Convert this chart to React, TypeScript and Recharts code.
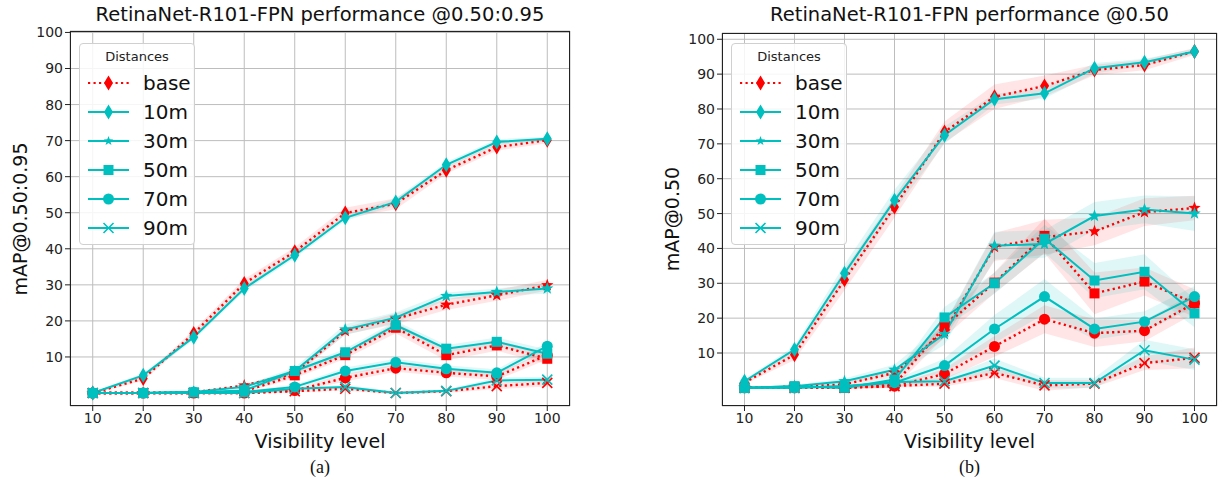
import React from "react";
import { ComposedChart, Line, Area, XAxis, YAxis, CartesianGrid } from "recharts";

const visibility = [10, 20, 30, 40, 50, 60, 70, 80, 90, 100];
const yTicks = [10, 20, 30, 40, 50, 60, 70, 80, 90, 100];

// (a) mAP@0.50:0.95
const aBase10 = [0, 4.0, 16.5, 30.4, 39.2, 49.9, 52.5, 61.8, 68.2, 70.1];
const aCam10 = [0, 4.9, 15.5, 29.0, 38.2, 48.6, 53.0, 63.3, 69.6, 70.5];
const aBase30 = [0, 0, 0.2, 2.1, 5.4, 17.2, 20.6, 24.5, 27.1, 29.9];
const aCam30 = [0, 0, 0.3, 1.7, 6.1, 17.6, 20.9, 26.9, 28.0, 29.0];
const aBase50 = [0, 0, 0, 0.5, 4.9, 10.5, 18.1, 10.5, 13.2, 9.5];
const aCam50 = [0, 0, 0.2, 0.7, 6.1, 11.3, 18.8, 12.3, 14.2, 10.9];
const aBase70 = [0, 0, 0, 0, 0.7, 4.2, 6.9, 5.6, 4.6, 10.5];
const aCam70 = [0, 0, 0.3, 0.3, 1.7, 6.1, 8.5, 6.7, 5.6, 13.0];
const aBase90 = [0, 0, 0, 0, 0.5, 1.2, 0, 0.5, 1.9, 2.8];
const aCam90 = [0, 0, 0, 0, 1.2, 1.7, 0, 0.6, 3.5, 3.7];

const aBase10Sd = [0.3, 0.6, 1, 1.2, 1.2, 1.5, 1.5, 1, 1, 0.8];
const aCam10Sd = [0.3, 0.5, 0.8, 0.8, 0.8, 0.8, 1, 0.8, 0.8, 0.6];
const aBase30Sd = [0, 0.1, 0.2, 0.4, 0.8, 1, 1.5, 1.5, 1.5, 1.5];
const aCam30Sd = [0, 0.1, 0.2, 0.4, 1, 1.5, 1.5, 1, 1, 1.5];
const aBase50Sd = [0, 0, 0.2, 0.4, 0.8, 1, 1.5, 1.5, 1.5, 1.5];
const aCam50Sd = [0, 0, 0.2, 0.3, 0.8, 1, 1.2, 1, 1.2, 1.2];
const aBase70Sd = [0, 0, 0.1, 0.2, 0.5, 1, 1, 1, 1, 1.2];
const aCam70Sd = [0, 0, 0.1, 0.2, 0.5, 1, 1, 1, 1, 1];
const aBase90Sd = [0, 0, 0, 0.1, 0.3, 0.5, 0.5, 0.5, 0.8, 1];
const aCam90Sd = [0, 0, 0, 0.1, 0.3, 0.5, 0.4, 0.4, 0.8, 0.8];

// (b) mAP@0.50
const bBase10 = [1.5, 9.5, 31.0, 51.9, 73.4, 83.5, 86.6, 91.2, 92.6, 96.5];
const bCam10 = [1.9, 11.0, 32.9, 53.8, 72.5, 82.8, 84.5, 91.7, 93.4, 96.5];
const bBase30 = [0, 0.3, 1.0, 4.3, 16.2, 40.4, 43.2, 44.9, 50.4, 51.6];
const bCam30 = [0, 0.5, 1.9, 5.2, 15.4, 40.8, 41.3, 49.3, 51.2, 50.0];
const bBase50 = [0, 0.3, 0, 1.0, 17.6, 30.2, 43.6, 27.1, 30.5, 24.3];
const bCam50 = [0, 0.5, 0, 2.4, 20.2, 30.0, 42.8, 30.8, 33.3, 21.4];
const bBase70 = [0, 0, 0.2, 0.5, 4.0, 11.9, 19.7, 15.7, 16.4, 24.3];
const bCam70 = [0, 0, 0.5, 1.5, 6.4, 16.9, 26.2, 16.9, 19.0, 26.2];
const bBase90 = [0, 0, 0, 0.5, 1.2, 4.3, 0.7, 1.2, 7.1, 8.6];
const bCam90 = [0, 0, 0.5, 1.7, 1.9, 6.4, 1.4, 1.4, 10.8, 8.1];

const bBase10Sd = [0.5, 1.5, 3, 3, 3, 3.5, 3, 1.5, 1.5, 1];
const bCam10Sd = [0.5, 1, 2.5, 3, 2.5, 1.5, 1.5, 1.5, 1, 0.8];
const bBase30Sd = [0, 0.3, 0.5, 1, 2, 4, 5, 4, 4, 3.5];
const bCam30Sd = [0, 0.3, 0.8, 1.5, 3, 4, 4, 4, 4, 5];
const bBase50Sd = [0, 0.2, 0.5, 1, 3, 3, 5, 6, 4, 4];
const bCam50Sd = [0, 0.2, 0.5, 1, 3, 3, 4, 5, 5, 4];
const bBase70Sd = [0, 0, 0.3, 0.5, 1.5, 3, 4, 4, 3, 3];
const bCam70Sd = [0, 0, 0.3, 0.8, 2, 4, 5, 3, 3, 3];
const bBase90Sd = [0, 0, 0.2, 0.4, 0.8, 1.5, 1.5, 1, 2, 3];
const bCam90Sd = [0, 0, 0.2, 0.5, 1, 2, 1.5, 1.5, 3, 3];

const RED = "#ff0000";
const CYAN = "#00bfbf";
const FONT = "DejaVu Sans, sans-serif";

type Shape = "diamond" | "star" | "square" | "circle" | "x";

function Marker({ shape, cx, cy, color, small }: { shape: Shape; cx: number; cy: number; color: string; small?: boolean }) {
  if (cx == null || cy == null) return null;
  if (shape === "diamond") {
    const w = 4.5, h = 7.5;
    return <polygon points={`${cx},${cy - h} ${cx + w},${cy} ${cx},${cy + h} ${cx - w},${cy}`} fill={color} />;
  }
  if (shape === "square") return <rect x={cx - 5} y={cy - 5} width={10} height={10} fill={color} />;
  if (shape === "circle") return <circle cx={cx} cy={cy} r={5.5} fill={color} />;
  if (shape === "x") {
    const s = 5;
    return (
      <g stroke={color} strokeWidth={1.6}>
        <line x1={cx - s} y1={cy - s} x2={cx + s} y2={cy + s} />
        <line x1={cx - s} y1={cy + s} x2={cx + s} y2={cy - s} />
      </g>
    );
  }
  const ro = small ? 5 : 6.5;
  const ri = ro * 0.42;
  const pts: string[] = [];
  for (let i = 0; i < 10; i++) {
    const r = i % 2 === 0 ? ro : ri;
    const a = -Math.PI / 2 + (i * Math.PI) / 5;
    pts.push(`${cx + r * Math.cos(a)},${cy + r * Math.sin(a)}`);
  }
  return <polygon points={pts.join(" ")} fill={color} />;
}

type Series = { key: string; values: number[]; sd: number[]; color: string; dotted: boolean; shape: Shape };

function makeSeries(base: number[][], cams: number[][], baseSd: number[][], camSd: number[][]): Series[] {
  const shapes: Shape[] = ["diamond", "star", "square", "circle", "x"];
  const out: Series[] = [];
  shapes.forEach((shape, i) => out.push({ key: `base${i}`, values: base[i], sd: baseSd[i], color: RED, dotted: true, shape }));
  shapes.forEach((shape, i) => out.push({ key: `cam${i}`, values: cams[i], sd: camSd[i], color: CYAN, dotted: false, shape }));
  return out;
}

const seriesA = makeSeries(
  [aBase10, aBase30, aBase50, aBase70, aBase90],
  [aCam10, aCam30, aCam50, aCam70, aCam90],
  [aBase10Sd, aBase30Sd, aBase50Sd, aBase70Sd, aBase90Sd],
  [aCam10Sd, aCam30Sd, aCam50Sd, aCam70Sd, aCam90Sd]
);
const seriesB = makeSeries(
  [bBase10, bBase30, bBase50, bBase70, bBase90],
  [bCam10, bCam30, bCam50, bCam70, bCam90],
  [bBase10Sd, bBase30Sd, bBase50Sd, bBase70Sd, bBase90Sd],
  [bCam10Sd, bCam30Sd, bCam50Sd, bCam70Sd, bCam90Sd]
);

function buildRows(series: Series[]) {
  return visibility.map((v, i) => {
    const row: Record<string, any> = { vis: v };
    series.forEach((s) => {
      row[s.key] = s.values[i];
      row[s.key + "Band"] = [s.values[i] - s.sd[i], s.values[i] + s.sd[i]];
    });
    return row;
  });
}

const legendItems: { label: string; color: string; dotted: boolean; shape: Shape }[] = [
  { label: "base", color: RED, dotted: true, shape: "diamond" },
  { label: "10m", color: CYAN, dotted: false, shape: "diamond" },
  { label: "30m", color: CYAN, dotted: false, shape: "star" },
  { label: "50m", color: CYAN, dotted: false, shape: "square" },
  { label: "70m", color: CYAN, dotted: false, shape: "circle" },
  { label: "90m", color: CYAN, dotted: false, shape: "x" },
];

function LegendBox({ left, top }: { left: number; top: number }) {
  return (
    <div
      style={{
        position: "absolute",
        left,
        top,
        width: 116,
        height: 202,
        border: "1px solid #d0d0d0",
        borderRadius: 4,
        background: "rgba(255,255,255,0.85)",
        boxSizing: "border-box",
        fontFamily: FONT,
      }}
    >
      <div style={{ position: "absolute", top: 5, width: "100%", textAlign: "center", fontSize: 13, color: "#222" }}>Distances</div>
      <svg width={116} height={202} style={{ position: "absolute", left: 0, top: 0 }}>
        {legendItems.map((it, i) => {
          const y = 39 + i * 29;
          return (
            <g key={it.label}>
              <line
                x1={8}
                x2={49}
                y1={y}
                y2={y}
                stroke={it.color}
                strokeWidth={it.dotted ? 2.2 : 2}
                strokeDasharray={it.dotted ? "2.2 3.3" : undefined}
              />
              <Marker shape={it.shape} cx={28.5} cy={y} color={it.color} small />
              <text x={63} y={y + 7} fontSize={20} fill="#111" fontFamily={FONT}>
                {it.label}
              </text>
            </g>
          );
        })}
      </svg>
    </div>
  );
}

function Panel({
  left,
  width,
  top,
  plotWidth,
  series,
  domain,
  title,
  yLabel,
  caption,
}: {
  left: number;
  width: number;
  top: number;
  plotWidth: number;
  series: Series[];
  domain: [number, number];
  title: string;
  yLabel: string;
  caption: string;
}) {
  const rows = buildRows(series);
  const yAxisW = 70;
  const plotLeft = left + yAxisW;
  const plotBottom = 406;
  const center = plotLeft + plotWidth / 2;
  const tickStyle = { fontSize: 14, fill: "#222", fontFamily: FONT };
  return (
    <>
      <div style={{ position: "absolute", left }}>
        <ComposedChart
          width={width}
          height={484}
          data={rows}
          margin={{ top, right: width - yAxisW - plotWidth, bottom: 48, left: 0 }}
        >
          <CartesianGrid stroke="#bdbdbd" strokeWidth={1} />
          <XAxis
            dataKey="vis"
            type="number"
            domain={[5.5, 104.5]}
            ticks={visibility}
            height={30}
            axisLine={false}
            tickLine={{ stroke: "#222" }}
            tickSize={5}
            tick={tickStyle}
            allowDataOverflow
          />
          <YAxis
            type="number"
            domain={domain}
            ticks={yTicks}
            width={yAxisW}
            axisLine={false}
            tickLine={{ stroke: "#222" }}
            tickSize={5}
            tick={tickStyle}
            allowDataOverflow
          />
          {series.map((s) => (
            <Area
              key={s.key + "Band"}
              dataKey={s.key + "Band"}
              type="linear"
              stroke="none"
              fill={s.color}
              fillOpacity={s.dotted ? 0.1 : 0.12}
              isAnimationActive={false}
              dot={false}
              activeDot={false}
            />
          ))}
          {series.map((s) => (
            <Line
              key={s.key}
              dataKey={s.key}
              type="linear"
              stroke={s.color}
              strokeWidth={s.dotted ? 2.4 : 2}
              strokeDasharray={s.dotted ? "2.2 3.3" : undefined}
              isAnimationActive={false}
              activeDot={false}
              dot={(p: any) => <Marker key={`${s.key}-${p.index}`} shape={s.shape} cx={p.cx} cy={p.cy} color={s.color} />}
            />
          ))}
        </ComposedChart>
      </div>
      <div
        style={{
          position: "absolute",
          left: plotLeft,
          top,
          width: plotWidth,
          height: plotBottom - top,
          border: "1.2px solid #222",
          boxSizing: "border-box",
          pointerEvents: "none",
        }}
      />
      <LegendBox left={plotLeft + 9} top={43} />
      <div
        style={{
          position: "absolute",
          left: center - 300,
          width: 600,
          top: 3,
          textAlign: "center",
          fontFamily: FONT,
          fontSize: 19.5,
          color: "#111",
          whiteSpace: "nowrap",
        }}
      >
        {title}
      </div>
      <div
        style={{
          position: "absolute",
          left: center - 200,
          width: 400,
          top: 430,
          textAlign: "center",
          fontFamily: FONT,
          fontSize: 19,
          color: "#111",
        }}
      >
        Visibility level
      </div>
      <div
        style={{
          position: "absolute",
          left: center - 50,
          width: 100,
          top: 457,
          textAlign: "center",
          fontFamily: "Liberation Serif, Times New Roman, serif",
          fontSize: 18,
          color: "#111",
        }}
      >
        {caption}
      </div>
      <div
        style={{
          position: "absolute",
          left: plotLeft - 50 - 150,
          top: 208,
          width: 300,
          textAlign: "center",
          transform: "rotate(-90deg)",
          fontFamily: FONT,
          fontSize: 19,
          color: "#111",
          whiteSpace: "nowrap",
        }}
      >
        {yLabel}
      </div>
    </>
  );
}

export default function App() {
  return (
    <div style={{ position: "absolute", left: 0, top: 0, width: 1223, height: 484, background: "#fff", overflow: "hidden" }}>
      <Panel
        left={0}
        width={590}
        top={31}
        plotWidth={500}
        series={seriesA}
        domain={[-3.6, 100.4]}
        title="RetinaNet-R101-FPN performance @0.50:0.95"
        yLabel="mAP@0.50:0.95"
        caption="(a)"
      />
      <Panel
        left={652}
        width={571}
        top={33}
        plotWidth={495}
        series={seriesB}
        domain={[-5.2, 101.8]}
        title="RetinaNet-R101-FPN performance @0.50"
        yLabel="mAP@0.50"
        caption="(b)"
      />
    </div>
  );
}
